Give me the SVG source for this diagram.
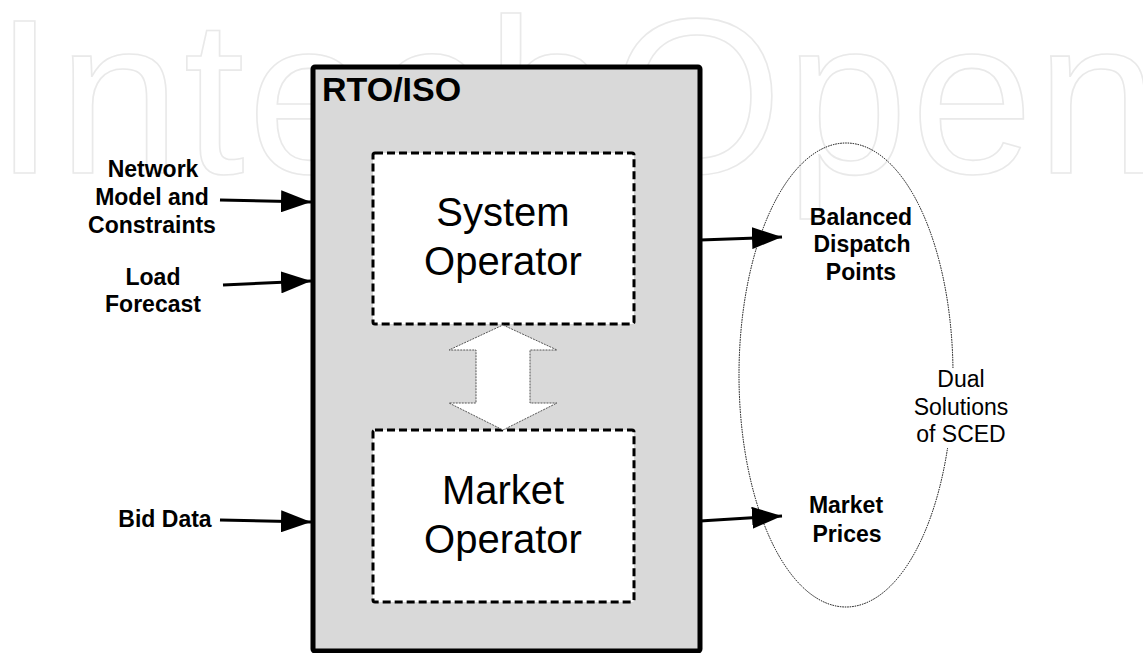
<svg xmlns="http://www.w3.org/2000/svg" width="1143" height="653" viewBox="0 0 1143 653">
<defs>
<style>
.wm{font-family:"Liberation Sans",Arial,sans-serif;font-size:220px;fill:none;stroke:#e9e9e9;stroke-width:1.6;letter-spacing:3px}
.lbl{font-family:"Liberation Sans",Arial,Helvetica,sans-serif;font-size:23px;font-weight:bold;fill:#000;text-anchor:middle}
.reg{font-family:"Liberation Sans",Arial,Helvetica,sans-serif;font-size:23px;fill:#000;text-anchor:middle}
.big{font-family:"Liberation Sans",Arial,Helvetica,sans-serif;font-size:40px;fill:#000;text-anchor:middle}
.title{font-family:"Liberation Sans",Arial,Helvetica,sans-serif;font-size:34px;font-weight:bold;fill:#000}
.dash{fill:#fff;stroke:#000;stroke-width:3;stroke-dasharray:8 4}
.arr{stroke:#000;stroke-width:3;fill:none;marker-end:url(#ah)}
</style>
<marker id="ah" viewBox="0 0 30 22" refX="30" refY="11" markerWidth="30" markerHeight="22" markerUnits="userSpaceOnUse" orient="auto">
<path d="M0,0 L30,11 L0,22 Z" fill="#000"/>
</marker>
</defs>
<rect width="1143" height="653" fill="#fff"/>
<text class="wm" x="-6" y="173">IntechOpen</text>

<g id="rto-iso">
<rect x="313" y="67" width="387" height="584" rx="2" fill="#d9d9d9" stroke="#000" stroke-width="5"/>
<text class="title" x="322" y="101">RTO/ISO</text>
</g>

<g id="system-operator">
<rect class="dash" x="373" y="153" width="261" height="171" rx="2"/>
<text class="big" x="503" y="226">System</text>
<text class="big" x="503" y="275">Operator</text>
</g>

<g id="market-operator">
<rect class="dash" x="373" y="430" width="261" height="172" rx="2"/>
<text class="big" x="503" y="504">Market</text>
<text class="big" x="503" y="553">Operator</text>
</g>

<g id="exchange-arrow">
<polygon points="503,325 557,350 530,350 530,403 557,403 503,430 449,403 476,403 476,350 449,350" fill="#fff" stroke="#555" stroke-width="1" stroke-dasharray="2 1"/>
</g>

<g id="dual-solutions">
<ellipse cx="846" cy="375" rx="107" ry="232" fill="none" stroke="#000" stroke-width="1" stroke-dasharray="1.5 1"/>
<rect x="910" y="368" width="100" height="80" fill="#fff"/>
<text class="reg" x="961" y="387">Dual</text>
<text class="reg" x="961" y="415">Solutions</text>
<text class="reg" x="961" y="442">of SCED</text>
</g>

<g id="input-network">
<text class="lbl" x="153" y="177">Network</text>
<text class="lbl" x="152" y="205">Model and</text>
<text class="lbl" x="152" y="233">Constraints</text>
</g>
<g id="input-load">
<text class="lbl" x="153" y="285">Load</text>
<text class="lbl" x="153" y="312">Forecast</text>
</g>
<g id="input-bid">
<text class="lbl" x="165" y="527">Bid Data</text>
</g>
<g id="output-dispatch">
<text class="lbl" x="861" y="225">Balanced</text>
<text class="lbl" x="862" y="252">Dispatch</text>
<text class="lbl" x="861" y="280">Points</text>
</g>
<g id="output-prices">
<text class="lbl" x="846" y="513">Market</text>
<text class="lbl" x="847" y="542">Prices</text>
</g>

<g id="connectors">
<line class="arr" x1="220" y1="200" x2="311" y2="202"/>
<line class="arr" x1="223" y1="285" x2="311" y2="281"/>
<line class="arr" x1="220" y1="520" x2="311" y2="522"/>
<line class="arr" x1="700" y1="240" x2="782" y2="237"/>
<line class="arr" x1="700" y1="521" x2="782" y2="516"/>
</g>
</svg>
